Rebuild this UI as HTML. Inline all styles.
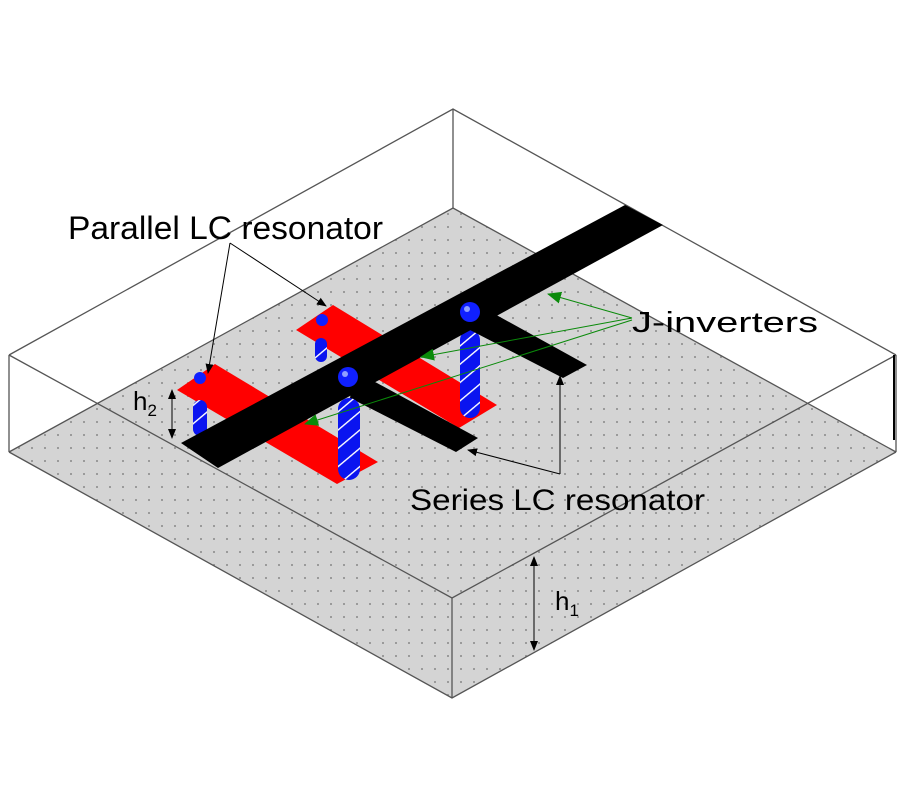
<!DOCTYPE html>
<html><head><meta charset="utf-8"><style>
html,body{margin:0;padding:0;background:#fff;}
svg{display:block;}
text{font-family:"Liberation Sans",Arial,sans-serif;fill:#000;}
</style></head><body>
<svg width="900" height="800" viewBox="0 0 900 800" xmlns="http://www.w3.org/2000/svg">
<defs>
<pattern id="dots" x="0" y="0" width="13" height="13" patternUnits="userSpaceOnUse">
<rect width="13" height="13" fill="#d4d4d4"/>
<rect x="5" y="5" width="2" height="2" fill="#9a9a9a"/>
</pattern>
<pattern id="stripe" width="14" height="14" patternUnits="userSpaceOnUse" patternTransform="rotate(-40)">
<rect width="14" height="14" fill="#0a14f0"/>
<rect y="0" width="14" height="1.4" fill="#fff"/>
</pattern>
<marker id="ak" markerWidth="10" markerHeight="10" refX="9" refY="5" orient="auto" markerUnits="userSpaceOnUse"><path d="M0,1 L10,5 L0,9 z" fill="#000"/></marker>
<marker id="ag" markerWidth="14" markerHeight="12" refX="13" refY="6" orient="auto" markerUnits="userSpaceOnUse"><path d="M0,0 L14,6 L0,12 z" fill="#0a8a0a"/></marker>
</defs>

<polygon points="453,208 896,452 452,698 9,452" fill="url(#dots)"/>
<g stroke="#555" stroke-width="1.3" fill="none">
<polyline points="9,355 453,109 896,355"/>
<line x1="453" y1="109" x2="453" y2="208"/>
<polyline points="9,452 453,208 896,452"/>
<line x1="9" y1="355" x2="9" y2="452"/>
<line x1="896" y1="355" x2="896" y2="452"/>
<polyline points="9,355 452,598 896,355"/>
<line x1="452" y1="598" x2="452" y2="698"/>
<polyline points="9,452 452,698 896,452"/>
</g>
<line x1="894" y1="355" x2="894" y2="440" stroke="#000" stroke-width="2"/>

<polygon points="333,305 497,405 459,428 296,330" fill="#ff0000"/>
<polygon points="215,364 378,462 337,484 177,390" fill="#ff0000"/>

<rect x="315" y="338" width="12" height="24" rx="6" fill="url(#stripe)"/>
<circle cx="322" cy="320" r="6" fill="#1020ff"/>
<rect x="193" y="400" width="14" height="36" rx="7" fill="url(#stripe)"/>
<circle cx="200" cy="378" r="6" fill="#1020ff"/>

<rect x="460" y="330" width="20" height="88" rx="10" fill="url(#stripe)"/>

<polygon points="181,443 625,205 663,225 218,468" fill="#000"/>
<polygon points="478,305 500,317 587,365 563,378 470,330" fill="#000"/>
<polygon points="355,372 377,383 478,438 456,452 350,398" fill="#000"/>

<rect x="338" y="398" width="22" height="82" rx="11" fill="url(#stripe)"/>
<circle cx="470" cy="312" r="10" fill="#1020ff"/>
<circle cx="348" cy="377" r="10" fill="#1020ff"/>
<circle cx="467" cy="309" r="3" fill="#8fa0ff"/>
<circle cx="345" cy="374" r="3" fill="#8fa0ff"/>

<g stroke="#0a8a0a" stroke-width="1" fill="none">
<line x1="632" y1="318" x2="548" y2="294" marker-end="url(#ag)"/>
<line x1="632" y1="318" x2="421" y2="357" marker-end="url(#ag)"/>
<line x1="632" y1="320" x2="305" y2="424" marker-end="url(#ag)"/>
</g>

<g stroke="#000" stroke-width="1" fill="none">
<line x1="230" y1="243" x2="208" y2="373" marker-end="url(#ak)"/>
<line x1="230" y1="243" x2="326" y2="306" marker-end="url(#ak)"/>
<line x1="560" y1="474" x2="560" y2="376" marker-end="url(#ak)"/>
<line x1="560" y1="474" x2="468" y2="450" marker-end="url(#ak)"/>
<line x1="172" y1="400" x2="172" y2="390" marker-end="url(#ak)"/>
<line x1="172" y1="390" x2="172" y2="438" marker-end="url(#ak)"/>
<line x1="534" y1="570" x2="534" y2="557" marker-end="url(#ak)"/>
<line x1="534" y1="557" x2="534" y2="650" marker-end="url(#ak)"/>
</g>

<text x="68" y="239" font-size="32" textLength="315" lengthAdjust="spacingAndGlyphs">Parallel LC resonator</text>
<text x="632" y="332" font-size="29" textLength="186" lengthAdjust="spacingAndGlyphs">J-inverters</text>
<text x="410" y="510" font-size="30" textLength="295" lengthAdjust="spacingAndGlyphs">Series LC resonator</text>
<text x="133" y="410" font-size="26">h<tspan font-size="17" dy="6">2</tspan></text>
<text x="555" y="610" font-size="26">h<tspan font-size="17" dy="6">1</tspan></text>
</svg>
</body></html>
